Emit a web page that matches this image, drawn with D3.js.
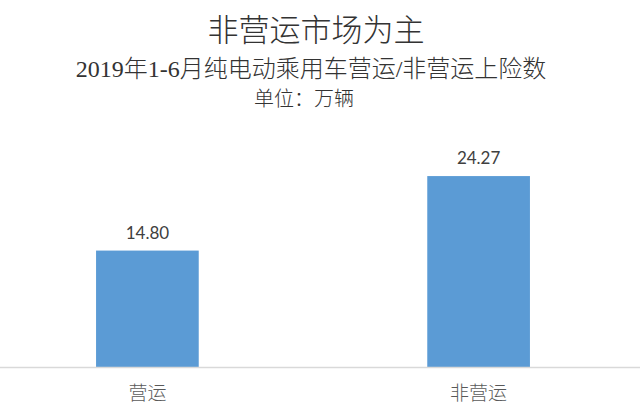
<!DOCTYPE html>
<html lang="zh">
<head>
    <meta charset="UTF-8">
    <title>非营运市场为主</title>
    <script src="https://cdn.jsdelivr.net/npm/d3@7/dist/d3.min.js"></script>
    <style>
        body{ margin:0; background:#fff; }
        .title{ font-family:"Liberation Serif","Noto Sans CJK SC",serif; fill:#333; font-weight:300; }
        .cat{ font-family:"Noto Sans CJK SC",sans-serif; fill:#595959; font-size:19px; font-weight:300; }
        .val{ font-family:Lato,"Liberation Sans",sans-serif; fill:#404040; font-size:17px; }
    </style>
</head>
<body>
<svg id="main" width="640" height="413"></svg>
<script>
    // data
    let categories = ['营运', '非营运'];
    let values = [14.80, 24.27];
    let titleText = '非营运市场为主';
    let subtitleText = '2019年1-6月纯电动乘用车营运/非营运上险数';
    let unitText = '单位：万辆';

    let svg = d3.select('svg#main');
    let width = 640, height = 413;

    // scales
    let xScale = d3.scaleBand()
        .domain(categories)
        .range([0, 626])
        .paddingInner(0.69)
        .paddingOuter(0.29);
    let yScale = d3.scaleLinear().domain([0, 30]).range([367, 131]);

    // titles
    svg.append('text').attr('class', 'title')
        .attr('x', 316).attr('y', 41)
        .attr('text-anchor', 'middle')
        .style('font-size', '31px')
        .text(titleText);
    svg.append('text').attr('class', 'title')
        .attr('x', 311).attr('y', 77)
        .attr('text-anchor', 'middle')
        .style('font-size', '24px')
        .text(subtitleText);
    svg.append('text').attr('class', 'title')
        .attr('x', 304).attr('y', 106)
        .attr('text-anchor', 'middle')
        .style('font-size', '20px')
        .text(unitText);

    // bars
    svg.selectAll('rect.bar')
        .data(values)
        .enter()
        .append('rect')
        .attr('class', 'bar')
        .attr('x', function(d, i){ return xScale(categories[i]); })
        .attr('width', xScale.bandwidth())
        .attr('y', function(d){ return yScale(d); })
        .attr('height', function(d){ return yScale(0) - yScale(d); })
        .style('fill', '#5b9bd5');

    // value labels
    svg.selectAll('text.val')
        .data(values)
        .enter()
        .append('text')
        .attr('class', 'val')
        .attr('text-anchor', 'middle')
        .attr('x', function(d, i){ return xScale(categories[i]) + xScale.bandwidth() / 2; })
        .attr('y', function(d){ return yScale(d) - 12; })
        .text(function(d){ return d.toFixed(2); });

    // x axis line
    svg.append('line')
        .attr('x1', 0).attr('x2', width)
        .attr('y1', yScale(0) + 0.5).attr('y2', yScale(0) + 0.5)
        .style('stroke', '#d9d9d9')
        .style('stroke-width', 1.5);

    // category labels
    svg.selectAll('text.cat')
        .data(categories)
        .enter()
        .append('text')
        .attr('class', 'cat')
        .attr('text-anchor', 'middle')
        .attr('x', function(d){ return xScale(d) + xScale.bandwidth() / 2; })
        .attr('y', yScale(0) + 33)
        .text(function(d){ return d; });
</script>
</body>
</html>
